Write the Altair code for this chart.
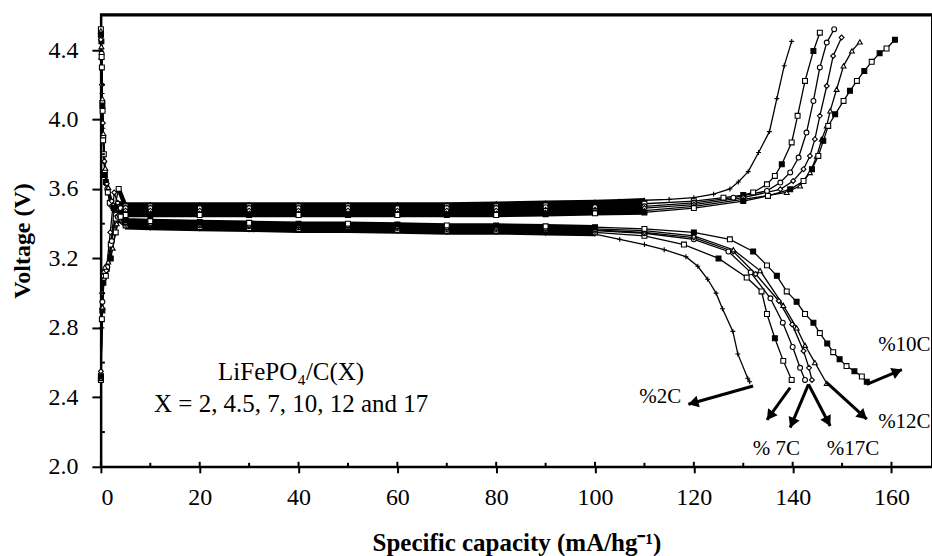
import math
import altair as alt
import pandas as pd

# ---------------- data ----------------
# charge curves (x = specific capacity, v = voltage)
ch2_x = [0, 0.2, 0.5, 1.0, 1.8, 2.6, 3.5, 5, 10, 20, 30, 40, 50, 60, 70, 80, 90, 100, 105, 110, 115, 120, 124, 127.3, 129, 131, 133.1, 135.3, 136.8, 138.3, 139.8]
ch2_v = [2.52, 2.80, 3.05, 3.12, 3.22, 3.38, 3.52, 3.51, 3.51, 3.51, 3.51, 3.51, 3.51, 3.51, 3.51, 3.515, 3.52, 3.525, 3.53, 3.535, 3.54, 3.55, 3.57, 3.60, 3.64, 3.70, 3.81, 3.93, 4.12, 4.31, 4.45]

ch7_x = [0, 0.3, 0.6, 1.2, 2.0, 2.8, 3.6, 5, 10, 20, 30, 40, 50, 60, 70, 80, 90, 100, 110, 120, 126, 130, 132.0, 134.8, 136.4, 137.8, 139.8, 141.0, 142.5, 144.2, 145.5]
ch7_v = [2.50, 2.90, 3.10, 3.14, 3.28, 3.50, 3.60, 3.50, 3.50, 3.50, 3.50, 3.50, 3.50, 3.50, 3.50, 3.50, 3.505, 3.51, 3.515, 3.53, 3.55, 3.565, 3.58, 3.627, 3.675, 3.742, 3.868, 4.021, 4.222, 4.395, 4.50]

chc_x = [0, 0.3, 0.7, 1.3, 2.2, 3.0, 4.0, 5, 10, 20, 30, 40, 50, 60, 70, 80, 90, 100, 110, 120, 128, 134.8, 137.5, 139.5, 141.2, 142.8, 144.2, 145.5, 146.9, 148.4]
chc_v = [2.53, 2.95, 3.12, 3.15, 3.30, 3.45, 3.49, 3.49, 3.49, 3.49, 3.49, 3.49, 3.49, 3.49, 3.49, 3.49, 3.495, 3.495, 3.50, 3.52, 3.55, 3.589, 3.637, 3.695, 3.781, 3.925, 4.107, 4.30, 4.443, 4.52]

chd_x = [0, 0.25, 0.6, 1.1, 1.9, 2.7, 3.4, 5, 10, 20, 30, 40, 50, 60, 70, 80, 90, 100, 110, 120, 130, 137.5, 140.1, 142.2, 143.5, 144.5, 145.5, 146.9, 148.2, 149.9]
chd_v = [2.55, 3.00, 3.08, 3.13, 3.35, 3.58, 3.52, 3.475, 3.475, 3.475, 3.475, 3.475, 3.475, 3.475, 3.475, 3.475, 3.48, 3.48, 3.49, 3.51, 3.55, 3.598, 3.646, 3.714, 3.79, 3.887, 4.021, 4.193, 4.366, 4.472]

cht_x = [0, 0.3, 0.8, 1.5, 2.4, 3.2, 4.2, 5, 10, 20, 30, 40, 50, 60, 70, 80, 90, 100, 110, 120, 130, 138.8, 141.5, 143.5, 144.9, 145.9, 146.9, 147.6, 148.9, 150.3, 152.0, 153.6]
cht_v = [2.51, 2.92, 3.15, 3.18, 3.26, 3.40, 3.47, 3.46, 3.46, 3.46, 3.46, 3.46, 3.46, 3.46, 3.46, 3.46, 3.465, 3.47, 3.475, 3.50, 3.54, 3.58, 3.618, 3.695, 3.79, 3.887, 3.963, 4.05, 4.174, 4.309, 4.395, 4.447]

ch10_x = [0, 0.2, 0.5, 1.0, 2.0, 3.0, 4.0, 5, 10, 20, 30, 40, 50, 60, 70, 80, 90, 100, 110, 120, 130, 135, 139.5, 142.2, 143.9, 145.2, 146.2, 147.2, 148.6, 150.3, 151.6, 153.0, 154.5, 156.0, 157.6, 159.0, 160.7]
ch10_v = [2.52, 2.85, 3.06, 3.10, 3.20, 3.35, 3.46, 3.45, 3.45, 3.45, 3.45, 3.45, 3.45, 3.45, 3.45, 3.45, 3.455, 3.46, 3.465, 3.49, 3.53, 3.56, 3.598, 3.646, 3.714, 3.79, 3.877, 3.963, 4.03, 4.107, 4.165, 4.222, 4.28, 4.332, 4.382, 4.409, 4.459]

# discharge curves
d2_x = [0, 0.1, 0.25, 0.4, 0.7, 1.1, 2.0, 3.2, 5, 10, 20, 30, 40, 50, 60, 70, 80, 90, 100, 105, 110, 114, 118.4, 120.8, 122.8, 124.5, 125.8, 127.9, 128.9, 130.9, 131.3]
d2_v = [4.50, 4.40, 4.15, 3.95, 3.75, 3.62, 3.50, 3.42, 3.38, 3.375, 3.37, 3.365, 3.36, 3.36, 3.355, 3.35, 3.35, 3.345, 3.34, 3.31, 3.28, 3.25, 3.21, 3.155, 3.08, 3.00, 2.91, 2.78, 2.65, 2.51, 2.49]

d7_x = [0, 0.1, 0.2, 0.35, 0.6, 1.0, 1.8, 3.0, 5, 10, 20, 30, 40, 50, 60, 70, 80, 90, 100, 110, 118, 125, 130.7, 133.7, 134.8, 136.4, 138.1, 139.8]
d7_v = [4.52, 4.45, 4.30, 4.05, 3.80, 3.64, 3.52, 3.43, 3.39, 3.385, 3.38, 3.375, 3.37, 3.37, 3.365, 3.36, 3.36, 3.355, 3.35, 3.33, 3.28, 3.20, 3.09, 3.01, 2.88, 2.74, 2.61, 2.50]

dc_x = [0, 0.15, 0.3, 0.5, 0.8, 1.3, 2.3, 3.4, 5, 10, 20, 30, 40, 50, 60, 70, 80, 90, 100, 110, 120, 127, 131.5, 135.5, 138, 140, 141.5, 142.5]
dc_v = [4.48, 4.38, 4.10, 3.90, 3.70, 3.60, 3.50, 3.44, 3.40, 3.395, 3.39, 3.385, 3.38, 3.38, 3.375, 3.37, 3.37, 3.365, 3.36, 3.345, 3.31, 3.24, 3.12, 2.97, 2.83, 2.69, 2.57, 2.50]

dd_x = [0, 0.1, 0.2, 0.4, 0.7, 1.2, 2.2, 3.6, 5, 10, 20, 30, 40, 50, 60, 70, 80, 90, 100, 110, 120, 128, 132.5, 137.2, 139.9, 142.2, 143.3, 143.9]
dd_v = [4.46, 4.35, 4.20, 3.98, 3.76, 3.63, 3.53, 3.45, 3.405, 3.40, 3.395, 3.39, 3.385, 3.385, 3.38, 3.375, 3.375, 3.37, 3.365, 3.35, 3.32, 3.24, 3.11, 2.955, 2.82, 2.667, 2.57, 2.50]

dt_x = [0, 0.1, 0.3, 0.5, 0.9, 1.5, 2.5, 3.8, 5, 10, 20, 30, 40, 50, 60, 70, 80, 90, 100, 110, 120, 128, 133.4, 138.1, 140.8, 142.5, 144.5, 146.9]
dt_v = [4.51, 4.42, 4.12, 3.92, 3.72, 3.61, 3.51, 3.45, 3.41, 3.405, 3.40, 3.395, 3.39, 3.39, 3.385, 3.38, 3.38, 3.375, 3.37, 3.36, 3.33, 3.25, 3.13, 2.93, 2.80, 2.70, 2.60, 2.48]

d10_x = [0, 0.15, 0.3, 0.45, 0.8, 1.4, 2.6, 4.0, 5, 10, 20, 30, 40, 50, 60, 70, 80, 90, 100, 110, 120, 127.3, 132, 134.8, 136.8, 138.8, 140.8, 142.5, 144.2, 145.5, 147, 148.2, 149.5, 150.9, 152.5, 154, 155]
d10_v = [4.49, 4.36, 4.08, 3.88, 3.68, 3.58, 3.49, 3.44, 3.42, 3.415, 3.41, 3.405, 3.40, 3.40, 3.395, 3.39, 3.39, 3.385, 3.38, 3.37, 3.35, 3.31, 3.24, 3.16, 3.10, 3.01, 2.95, 2.88, 2.83, 2.77, 2.71, 2.66, 2.62, 2.58, 2.55, 2.52, 2.49]

# arrows (tail -> tip) and labels
arrow_x = [132.0, 139.5, 143.2, 143.2, 146.9, 155.0]
arrow_y = [2.465, 2.456, 2.475, 2.475, 2.485, 2.475]
arrow_x2 = [118.9, 134.8, 139.5, 147.6, 155.0, 162.1]
arrow_y2 = [2.36, 2.27, 2.226, 2.235, 2.274, 2.56]

label_text = ["%2C", "% 7C", "%17C", "%12C", "%10C"]
label_x = [113.2, 136.7, 152.2, 162.6, 162.6]
label_y = [2.40, 2.10, 2.10, 2.256, 2.70]

note_text = ["LiFePO\u2084/C(X)", "X = 2, 4.5, 7, 10, 12 and 17"]
note_x = [38.5, 38.5]
note_y = [2.544, 2.36]

x_ticks = [0, 20, 40, 60, 80, 100, 120, 140, 160]
x_minor = [10, 30, 50, 70, 90, 110, 130, 150]
y_ticks = [2.0, 2.4, 2.8, 3.2, 3.6, 4.0, 4.4]
y_minor = [2.2, 2.6, 3.0, 3.4, 3.8, 4.2]
frame_top = [4.601]

# ---------------- build tables ----------------
W, H = 832, 453
XD = [0, 168.2]
YD = [2.0, 4.606]
SX = W / (XD[1] - XD[0])
SY = H / (YD[1] - YD[0])

curves = [
    ("c2", "ch", "p2", ch2_x, ch2_v), ("c7", "ch", "sq", ch7_x, ch7_v),
    ("cc", "ch", "ci", chc_x, chc_v), ("cd", "ch", "di", chd_x, chd_v),
    ("ct", "ch", "tr", cht_x, cht_v), ("c10", "ch", "sq10", ch10_x, ch10_v),
    ("d2", "dis", "p2", d2_x, d2_v), ("d7", "dis", "sq", d7_x, d7_v),
    ("dc", "dis", "ci", dc_x, dc_v), ("dd", "dis", "di", dd_x, dd_v),
    ("dt", "dis", "tr", dt_x, dt_v), ("d10", "dis", "sq10", d10_x, d10_v),
]
rows = []
for name, kind, mk, xs, vs in curves:
    for i, (x, v) in enumerate(zip(xs, vs)):
        fill = "black" if (mk == "sq10" and i % 2 == 0) or (mk == "sq" and i % 4 == 1) else "white"
        rows.append({"series": name, "kind": kind, "mk": mk, "i": i, "x": x, "v": v, "fillc": fill})
df = pd.DataFrame(rows)
band = df[((df.kind == "ch") & (df.x >= 3.5) & (df.x <= 110)) | ((df.kind == "dis") & (df.x >= 3.5) & (df.x <= 100))]

arr = pd.DataFrame({"x": arrow_x, "y": arrow_y, "x2": arrow_x2, "y2": arrow_y2})
heads = []
for a, b, c, d in zip(arrow_x, arrow_y, arrow_x2, arrow_y2):
    dx = (c - a) * SX
    dy = -(d - b) * SY
    L = math.hypot(dx, dy)
    ang = math.degrees(math.atan2(dx, -dy)) % 360
    back = 5.0
    heads.append({"x": c - dx / L * back / SX, "y": d + dy / L * back / SY, "ang": ang})
heads = pd.DataFrame(heads)

labels = pd.DataFrame({"t": label_text, "x": label_x, "y": label_y})
notes = pd.DataFrame({"t": note_text, "x": note_x, "y": note_y})

FONT = "Liberation Serif"
xs = alt.Scale(domain=XD, nice=False, zero=False)
ys = alt.Scale(domain=YD, nice=False, zero=False)

base = alt.Chart(df)
xenc = alt.X("x:Q", scale=xs, axis=alt.Axis(
    values=x_ticks, title="Specific capacity (mA/hg\u207b\u00b9)", grid=False,
    domainColor="black", domainWidth=2, tickColor="black", tickWidth=2, tickSize=6,
    labelFont=FONT, labelFontSize=24, labelColor="black", labelPadding=13,
    titleFont=FONT, titleFontSize=25, titleFontWeight="bold", titleColor="black",
    titleY=84, titleBaseline="alphabetic"))
yenc = alt.Y("v:Q", scale=ys, axis=alt.Axis(
    values=y_ticks, format=".1f", title="Voltage (V)", grid=False,
    domainColor="black", domainWidth=2, tickColor="black", tickWidth=2, tickSize=9,
    labelFont=FONT, labelFontSize=24, labelColor="black", labelPadding=14,
    titleFont=FONT, titleFontSize=24, titleFontWeight="bold", titleColor="black",
    titleAngle=270, titleX=-78, titleBaseline="middle"))

thin = base.mark_line(color="black", strokeWidth=1.3).encode(
    x=xenc, y=yenc, detail="series:N", order="i:Q")
thick = alt.Chart(band).mark_line(color="black", strokeWidth=4.5).encode(
    x=alt.X("x:Q", scale=xs), y=alt.Y("v:Q", scale=ys), detail="series:N", order="i:Q")
pts = base.mark_point(filled=True, stroke="black", strokeWidth=1.1, size=24, opacity=1).encode(
    x=alt.X("x:Q", scale=xs), y=alt.Y("v:Q", scale=ys),
    shape=alt.Shape("mk:N", scale=alt.Scale(
        domain=["p2", "sq", "ci", "di", "tr", "sq10"],
        range=["M-1,0L1,0M0,-1L0,1", "square", "circle", "diamond", "triangle-up", "square"]),
        legend=None),
    fill=alt.Fill("fillc:N", scale=None))

rules = alt.Chart(arr).mark_rule(color="black", strokeWidth=3).encode(
    x=alt.X("x:Q", scale=xs), y=alt.Y("y:Q", scale=ys), x2="x2:Q", y2="y2:Q")
hd = alt.Chart(heads).mark_point(shape="triangle-up", filled=True, color="black", size=140, opacity=1).encode(
    x=alt.X("x:Q", scale=xs), y=alt.Y("y:Q", scale=ys), angle=alt.Angle("ang:Q", scale=None))
lab = alt.Chart(labels).mark_text(font=FONT, fontSize=21, color="black", baseline="middle").encode(
    x=alt.X("x:Q", scale=xs), y=alt.Y("y:Q", scale=ys), text="t:N")
nt = alt.Chart(notes).mark_text(font=FONT, fontSize=25, color="black", baseline="middle").encode(
    x=alt.X("x:Q", scale=xs), y=alt.Y("y:Q", scale=ys), text="t:N")

xmaj = alt.Chart(pd.DataFrame({"t": x_ticks})).mark_rule(color="black", strokeWidth=2).encode(
    x=alt.X("t:Q", scale=xs), y=alt.value(H - 5), y2=alt.value(H))
xmin = alt.Chart(pd.DataFrame({"t": x_minor})).mark_rule(color="black", strokeWidth=2).encode(
    x=alt.X("t:Q", scale=xs), y=alt.value(H - 4), y2=alt.value(H))
ymin = alt.Chart(pd.DataFrame({"t": y_minor})).mark_rule(color="black", strokeWidth=2).encode(
    y=alt.Y("t:Q", scale=ys), x=alt.value(0), x2=alt.value(4))
top = alt.Chart(pd.DataFrame({"t": frame_top})).mark_rule(color="#000000", strokeWidth=2.5).encode(
    y=alt.Y("t:Q", scale=ys), x=alt.value(0), x2=alt.value(W))

chart = alt.layer(thin, thick, pts, rules, hd, lab, nt, xmaj, xmin, ymin, top).properties(
    width=W, height=H,
    autosize=alt.AutoSizeParams(type="none"),
    padding={"left": 101, "top": 14, "right": 0, "bottom": 89},
    background="white",
).configure_view(stroke="black", strokeWidth=2)

chart.save("out.html", embed_options={"renderer": "svg", "actions": False})
